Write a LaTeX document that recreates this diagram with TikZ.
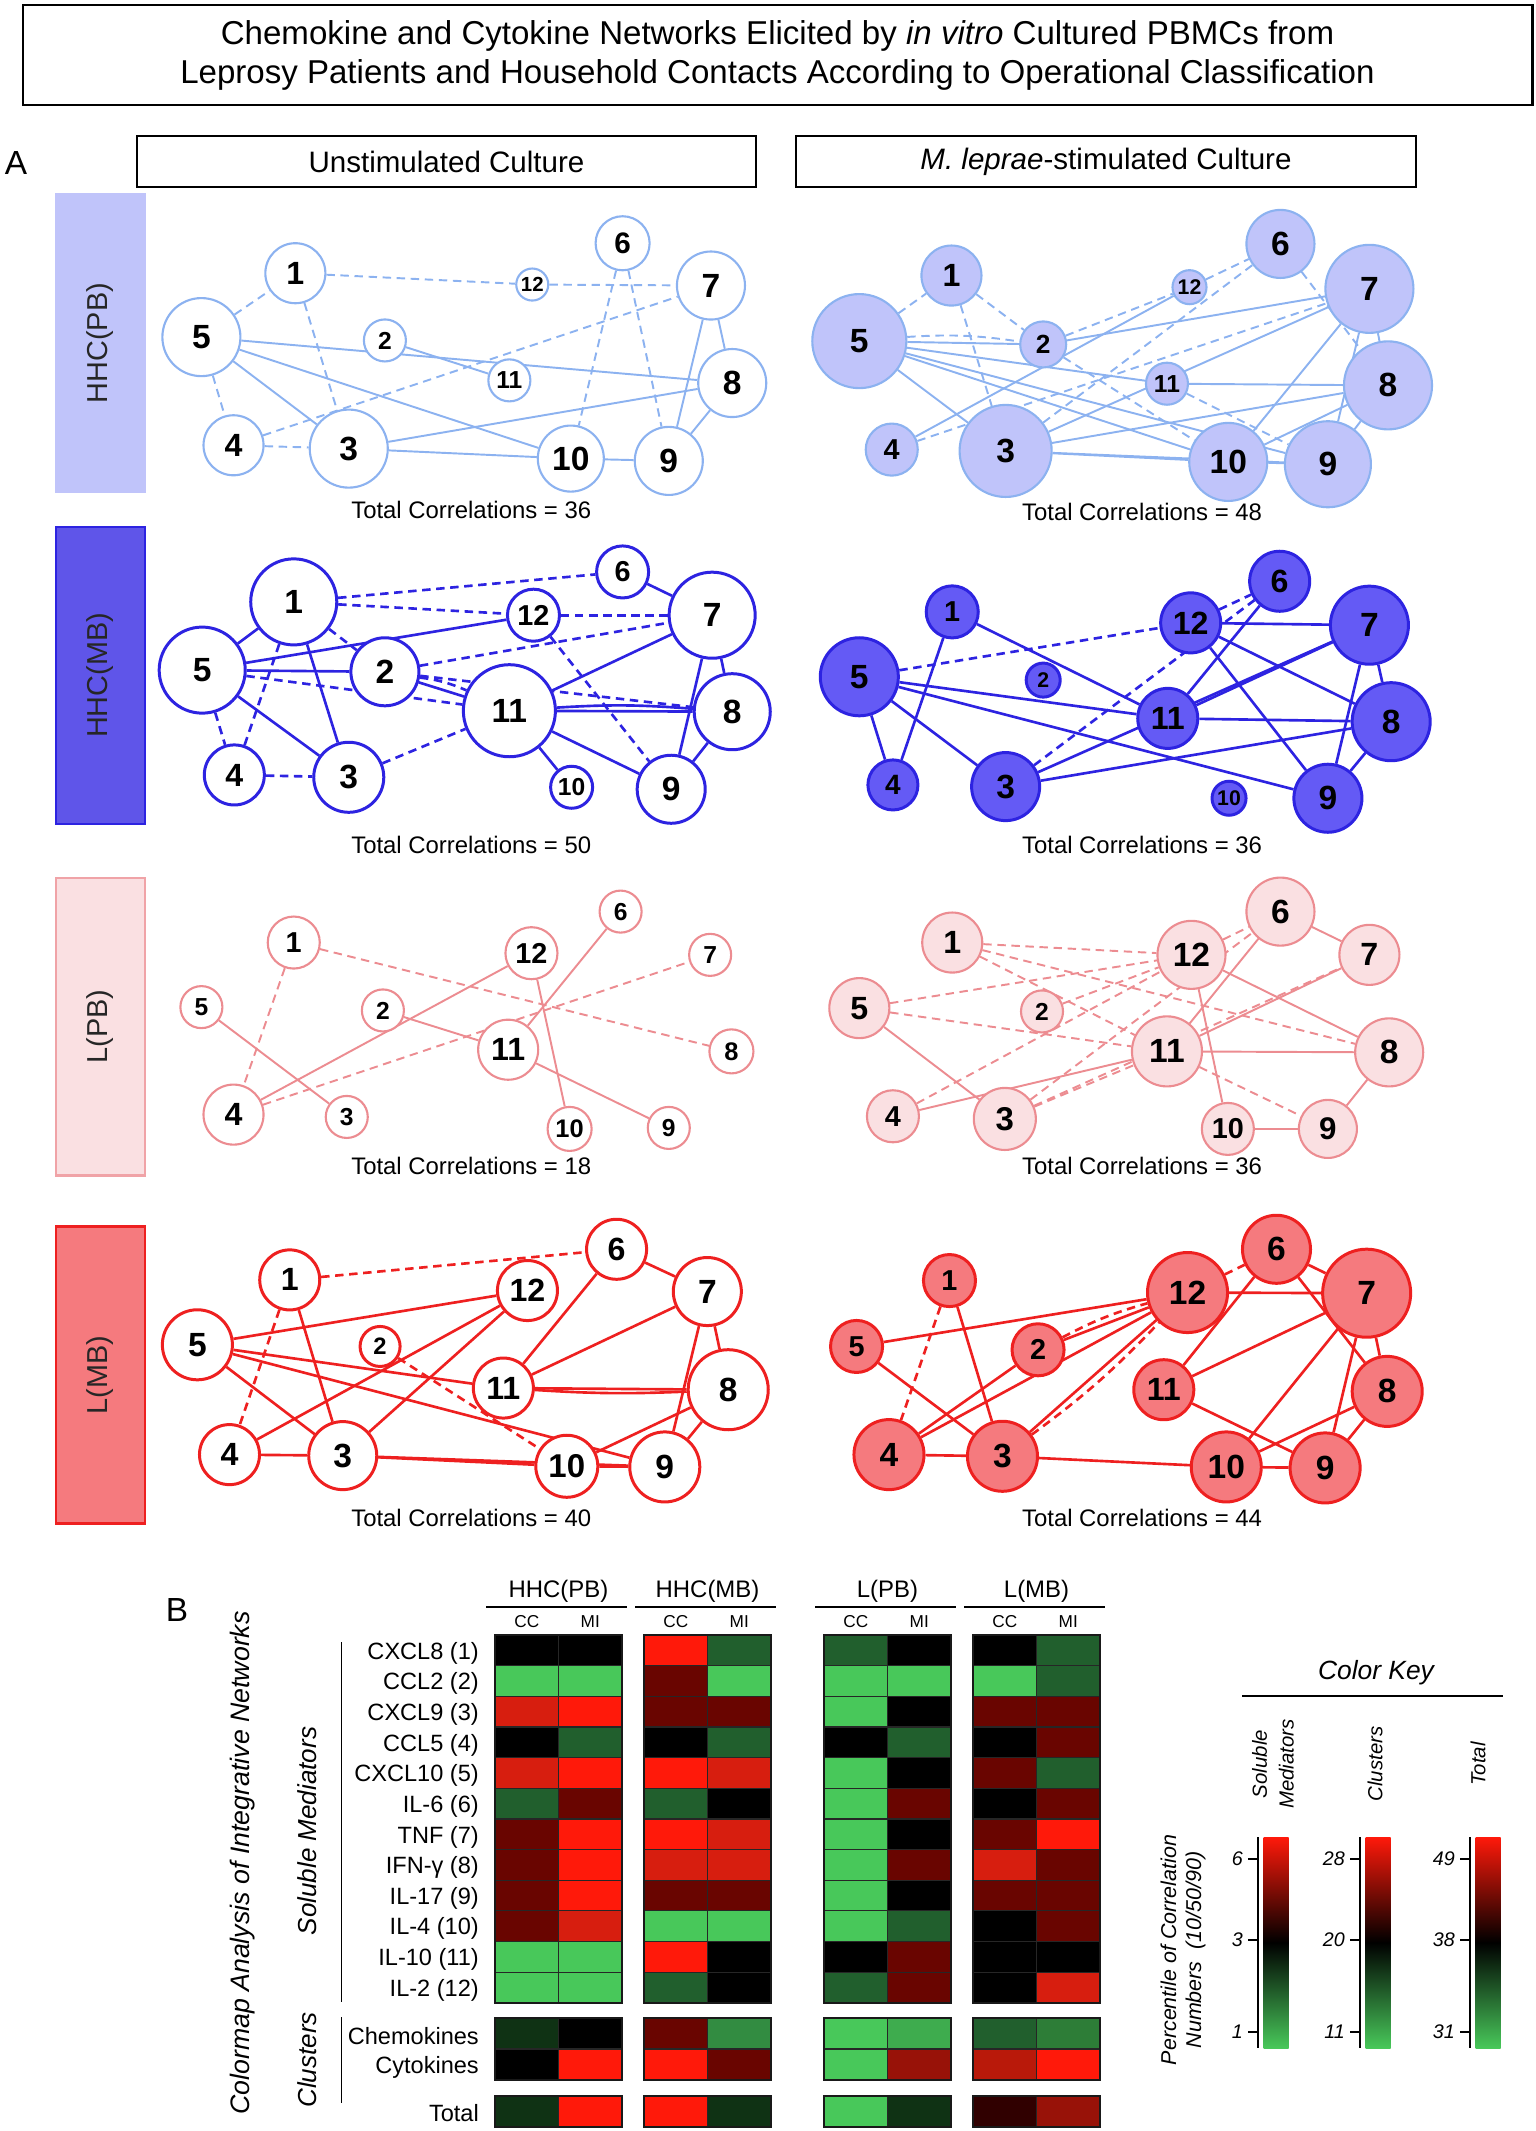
\documentclass[tikz,border=0pt]{standalone}
\usepackage{fontspec}
\setmainfont{Liberation Sans}
\pgfdeclarelayer{bg}
\pgfsetlayers{bg,main}

% network colours
\definecolor{cpb}{RGB}{140,178,240}
\definecolor{cpbf}{RGB}{192,196,250}
\definecolor{cmb}{RGB}{45,35,225}
\definecolor{cmbf}{RGB}{100,90,245}
\definecolor{clp}{RGB}{236,140,145}
\definecolor{clpf}{RGB}{250,224,226}
\definecolor{clm}{RGB}{238,32,32}
\definecolor{clmf}{RGB}{245,122,126}
% colormap
\definecolor{hG}{RGB}{72,200,90}
\definecolor{hg}{RGB}{33,95,45}
\definecolor{hk}{RGB}{0,0,0}
\definecolor{hm}{RGB}{105,5,0}
\definecolor{hr}{RGB}{215,30,15}
\definecolor{hR}{RGB}{255,25,10}
\definecolor{hd}{RGB}{15,50,20}
\definecolor{hn}{RGB}{50,140,65}
\definecolor{hl}{RGB}{62,172,78}
\definecolor{hj}{RGB}{45,125,55}
\definecolor{hq}{RGB}{152,18,8}
\definecolor{hs}{RGB}{185,25,10}
\definecolor{hb}{RGB}{48,0,0}

\newcommand\ndfont[1]{\pgfmathsetmacro\ndsz{min(5+0.6*#1,24)*0.3974}\fontsize{\ndsz pt}{\ndsz pt}\selectfont\bfseries}

% one block of the colormap: left x, list of CC/MI colours
\newcommand\hmblock[2]{%
  \foreach \ca/\cb [count=\i from 0] in {#2}{
    \pgfmathsetmacro\yy{\i<12 ? 1635+\i*30.65 : (\i<14 ? 2018+(\i-12)*31 : 2096)}
    \pgfmathsetmacro\hh{\i<12 ? 30.65 : 31}
    \fill[\ca] (#1,\yy) rectangle ++(63.5,\hh);
    \fill[\cb] (#1+63.5,\yy) rectangle ++(63.5,\hh);
    \draw[cellline] (#1,\yy) rectangle ++(63.5,\hh) (#1+63.5,\yy) rectangle ++(63.5,\hh);
  }
  \draw[blockline] (#1,1635) rectangle (#1+127,2002.8) (#1,2018) rectangle (#1+127,2080) (#1,2096) rectangle (#1+127,2127);
}

\tikzset{
  nd/.style={circle, inner sep=0pt, text=black, minimum size=0.02cm*#1, font=\ndfont{#1}},
  sol/.style={draw=#1, line width=0.55pt},
  dsh/.style={sol=#1, dash pattern=on 2.4pt off 1.6pt},
  heavy/.style={line width=0.75pt},
  tc/.style={text=black, font=\fontsize{6.8}{8}\selectfont},
  hdr/.style={draw, line width=0.6pt, minimum width=6.19cm, minimum height=0.51cm, font=\fontsize{8.4}{10}\selectfont},
  grp/.style={rotate=90, minimum width=2.97cm, minimum height=0.89cm, inner sep=0pt, line width=0.8pt, text=black!85, font=\fontsize{8.2}{10}\selectfont},
  pan/.style={font=\fontsize{9.5}{11}\selectfont},
  hmh/.style={font=\fontsize{6.8}{8}\selectfont},
  hms/.style={font=\fontsize{4.9}{6}\selectfont},
  hml/.style={anchor=east, inner sep=1pt, font=\fontsize{6.7}{8}\selectfont},
  rotlab/.style={rotate=90, font=\fontsize{7.4}{9}\selectfont\itshape},
  cellline/.style={draw=black!85, line width=0.35pt},
  blockline/.style={draw=black!90, line width=0.7pt},
  ckl/.style={rotate=90, align=center, font=\fontsize{5.8}{7.6}\selectfont\itshape},
  tkl/.style={anchor=east, inner sep=1pt, font=\fontsize{5.6}{7}\selectfont\itshape},
}

\begin{document}
\begin{tikzpicture}[x=0.01cm, y=-0.01cm]
\useasboundingbox (0,0) rectangle (1535,2131);

% titles
\node[draw, line width=0.6pt, minimum width=15.09cm, minimum height=1.0cm, align=center,
      font=\fontsize{9.4}{11.1}\selectfont] (title) at (777.5,55)
  {Chemokine and Cytokine Networks Elicited by \textit{in vitro} Cultured PBMCs from\\
   Leprosy Patients and Household Contacts According to Operational Classification};
\node[pan] (pA) at (16,163) {A};
\node[hdr] (unst) at (446.5,161.5) {Unstimulated Culture};
\node[hdr] (stim) at (1106,161.5) {\textit{M. leprae}-stimulated Culture};

% group bars
\node[grp, fill=cpbf, draw=cpbf] (gpb) at (100.5,343) {HHC(PB)};
\node[grp, fill=cmbf!95!black, draw=cmb] (gmb) at (100.5,675.5) {HHC(MB)};
\node[grp, fill=clpf, draw=clp!80] (glp) at (100.5,1026.5) {L(PB)};
\node[grp, fill=clmf, draw=clm] (glm) at (100.5,1375) {L(MB)};

% HHC(PB) unstimulated
\begin{scope}[shift={(150,204)}, x=0.0040179cm, y=-0.0033333cm]
  \foreach \n/\x/\y/\rr in {1/362/208/30, 2/585/410/21, 3/495/735/39, 4/208/725/30, 5/128/400/39, 6/1177/118/27,
      7/1397/245/34, 8/1450/538/34, 9/1292/772/34, 10/1048/765/33, 11/895/530/21, 12/952/242/16}
    \node[nd=\rr, draw=cpb, fill=white, line width=0.6pt] (pbu\n) at (\x,\y) {\n};
  \node[tc] (pbut) at (800,920) {Total Correlations = 36};
  \begin{pgfonlayer}{bg}
    \foreach \a/\b in {5/8, 2/11, 5/3, 5/10, 3/8, 3/10, 10/9, 7/9, 7/8, 8/9}
      \draw[sol=cpb] (pbu\a) -- (pbu\b);
    \foreach \a/\b in {1/12, 12/7, 5/1, 1/3, 5/4, 4/3, 4/7, 6/10, 6/9}
      \draw[dsh=cpb] (pbu\a) -- (pbu\b);
  \end{pgfonlayer}
\end{scope}

% HHC(PB) stimulated
\begin{scope}[shift={(800,204)}, x=0.0039541cm, y=-0.0033333cm]
  \foreach \n/\x/\y/\rr in {1/383/215/30, 2/615/422/23, 3/520/742/46, 4/232/738/26, 5/150/412/47, 6/1215/120/34,
      7/1440/255/44, 8/1487/545/44, 9/1335/782/43, 10/1083/775/39, 11/928/540/21, 12/985/250/17}
    \node[nd=\rr, draw=cpb, fill=cpbf, line width=0.6pt] (pbs\n) at (\x,\y) {\n};
  \node[tc] (pbst) at (865,925) {Total Correlations = 48};
  \begin{pgfonlayer}{bg}
    \foreach \a/\b in {5/2, 2/7, 5/11, 5/10, 5/9, 5/3, 11/8, 3/8, 3/10, 3/9, 10/9, 10/7, 9/7, 10/8, 9/8, 7/8, 4/12, 3/7}
      \draw[sol=cpb] (pbs\a) -- (pbs\b);
    \foreach \a/\b in {5/1, 1/2, 1/3, 2/12, 12/6, 6/8, 3/6, 4/7, 2/10, 11/9}
      \draw[dsh=cpb] (pbs\a) -- (pbs\b);
    \draw[dsh=cpb] (pbs5) to[bend left=6] (pbs2);
  \end{pgfonlayer}
\end{scope}

% HHC(MB) unstimulated
\begin{scope}[shift={(150,537)}, x=0.0040179cm, y=-0.0033333cm]
  \foreach \n/\x/\y/\rr in {1/358/195/43, 2/585/405/34, 3/495/722/35, 4/210/715/30, 5/130/400/43, 6/1177/105/26,
      7/1400/235/43, 8/1450/525/38, 9/1298/758/34, 10/1050/752/21, 11/895/522/46, 12/955/235/26}
    \node[nd=\rr, draw=cmb, fill=white, line width=0.85pt] (mbu\n) at (\x,\y) {\n};
  \node[tc] (mbut) at (800,925) {Total Correlations = 50};
  \begin{pgfonlayer}{bg}
    \foreach \a/\b in {5/1, 1/3, 5/3, 5/12, 5/2, 2/11, 6/7, 11/7, 11/8, 11/9, 11/10, 7/9, 7/8, 8/9}
      \draw[sol=cmb, heavy] (mbu\a) -- (mbu\b);
    \draw[sol=cmb, heavy] (mbu11) to[bend left=4] (mbu8);
    \foreach \a/\b in {1/12, 1/6, 12/7, 1/2, 2/7, 12/9, 2/8, 5/11, 5/4, 1/4, 4/3, 3/11}
      \draw[dsh=cmb, heavy] (mbu\a) -- (mbu\b);
    \draw[dsh=cmb, heavy] (mbu2) to[bend left=8] (mbu11);
  \end{pgfonlayer}
\end{scope}

% HHC(MB) stimulated
\begin{scope}[shift={(800,537)}, x=0.0039541cm, y=-0.0033333cm]
  \foreach \n/\x/\y/\rr in {1/385/225/26, 2/615/430/17, 3/520/750/34, 4/235/745/25, 5/150/420/39, 6/1213/133/30,
      7/1440/265/39, 8/1495/555/39, 9/1335/785/34, 10/1085/785/17, 11/930/545/30, 12/988/258/30}
    \node[nd=\rr, draw=cmb, fill=cmbf, line width=0.85pt] (mbs\n) at (\x,\y) {\n};
  \node[tc] (mbst) at (865,925) {Total Correlations = 36};
  \begin{pgfonlayer}{bg}
    \foreach \a/\b in {1/11, 1/4, 5/4, 5/3, 5/11, 5/9, 12/7, 12/8, 12/9, 6/11, 11/7, 3/7, 11/8, 3/8, 7/9, 7/8, 8/9}
      \draw[sol=cmb, heavy] (mbs\a) -- (mbs\b);
    \foreach \a/\b in {5/12, 12/6, 3/6}
      \draw[dsh=cmb, heavy] (mbs\a) -- (mbs\b);
  \end{pgfonlayer}
\end{scope}

% L(PB) unstimulated
\begin{scope}[shift={(150,870)}, x=0.0040179cm, y=-0.0033333cm]
  \foreach \n/\x/\y/\rr in {1/358/218/26, 2/580/422/21, 3/490/742/21, 4/208/735/30, 5/128/412/21, 6/1172/125/21,
      7/1395/255/21, 8/1448/545/22, 9/1292/775/21, 10/1045/778/22, 11/892/540/30, 12/950/250/26}
    \node[nd=\rr, draw=clp, fill=white, line width=0.6pt] (lpu\n) at (\x,\y) {\n};
  \node[tc] (lput) at (800,890) {Total Correlations = 18};
  \begin{pgfonlayer}{bg}
    \foreach \a/\b in {5/3, 4/12, 2/11, 6/11, 12/10, 11/9}
      \draw[sol=clp] (lpu\a) -- (lpu\b);
    \foreach \a/\b in {1/4, 1/8, 4/7}
      \draw[dsh=clp] (lpu\a) -- (lpu\b);
  \end{pgfonlayer}
\end{scope}

% L(PB) stimulated
\begin{scope}[shift={(800,870)}, x=0.0039541cm, y=-0.0033333cm]
  \foreach \n/\x/\y/\rr in {1/385/218/30, 2/612/425/21, 3/518/748/31, 4/235/740/26, 5/150/415/30, 6/1215/125/34,
      7/1440/255/30, 8/1490/548/34, 9/1335/778/29, 10/1082/778/26, 11/928/545/35, 12/990/255/34}
    \node[nd=\rr, draw=clp, fill=clpf, line width=0.6pt] (lps\n) at (\x,\y) {\n};
  \node[tc] (lpst) at (865,890) {Total Correlations = 36};
  \begin{pgfonlayer}{bg}
    \foreach \a/\b in {5/3, 4/11, 12/8, 12/10, 6/11, 6/7, 11/7, 11/8, 8/9, 10/9}
      \draw[sol=clp] (lps\a) -- (lps\b);
    \foreach \a/\b in {1/12, 1/11, 1/8, 5/12, 5/11, 2/12, 12/6, 4/12, 3/6, 3/11, 3/7, 11/9}
      \draw[dsh=clp] (lps\a) -- (lps\b);
  \end{pgfonlayer}
\end{scope}

% L(MB) unstimulated
\begin{scope}[shift={(150,1210)}, x=0.0040179cm, y=-0.0033333cm]
  \foreach \n/\x/\y/\rr in {1/348/210/30, 2/573/410/20, 3/480/738/34, 4/198/735/30, 5/118/405/35, 6/1162/118/30,
      7/1388/245/34, 8/1440/540/40, 9/1282/772/35, 10/1038/770/31, 11/880/535/30, 12/940/242/30}
    \node[nd=\rr, draw=clm, fill=white, line width=0.85pt] (lmu\n) at (\x,\y) {\n};
  \node[tc] (lmut) at (800,925) {Total Correlations = 40};
  \begin{pgfonlayer}{bg}
    \foreach \a/\b in {1/3, 5/12, 5/11, 5/3, 5/9, 4/12, 4/3, 3/12, 3/10, 3/9, 6/11, 6/7, 11/7, 11/8, 10/8, 10/9, 7/9, 7/8, 8/9}
      \draw[sol=clm, heavy] (lmu\a) -- (lmu\b);
    \draw[sol=clm, heavy] (lmu11) to[bend right=3] (lmu8);
    \foreach \a/\b in {1/6, 1/4, 2/10}
      \draw[dsh=clm, heavy] (lmu\a) -- (lmu\b);
  \end{pgfonlayer}
\end{scope}

% L(MB) stimulated
\begin{scope}[shift={(800,1210)}, x=0.0039541cm, y=-0.0033333cm]
  \foreach \n/\x/\y/\rr in {1/378/212/26, 2/602/420/26, 3/512/740/35, 4/225/735/35, 5/143/410/26, 6/1205/118/34,
      7/1433/250/44, 8/1485/545/35, 9/1328/775/35, 10/1078/772/35, 11/920/540/30, 12/980/248/40}
    \node[nd=\rr, draw=clm, fill=clmf, line width=0.85pt] (lms\n) at (\x,\y) {\n};
  \node[tc] (lmst) at (865,925) {Total Correlations = 44};
  \begin{pgfonlayer}{bg}
    \foreach \a/\b in {5/12, 5/3, 1/3, 4/3, 4/2, 4/12, 2/12, 3/12, 3/10, 12/7, 6/11, 6/7, 6/8, 11/7, 11/9, 7/10, 7/9, 7/8, 10/8, 8/9, 10/9}
      \draw[sol=clm, heavy] (lms\a) -- (lms\b);
    \foreach \a/\b in {1/4, 12/6}
      \draw[dsh=clm, heavy] (lms\a) -- (lms\b);
    \draw[dsh=clm, heavy] (lms2) to[bend left=6] (lms12);
    \draw[dsh=clm, heavy] (lms3) to[bend right=5] (lms12);
  \end{pgfonlayer}
\end{scope}

% panel B: colormap
\node[pan] (pB) at (177,1610) {B};
\node[rotlab, font=\fontsize{7.6}{9}\selectfont\itshape] (cmap) at (243,1863) {Colormap Analysis of Integrative Networks};
\node[rotlab] (solm) at (307.5,1831) {Soluble Mediators};
\node[rotlab] (clus) at (307.5,2060) {Clusters};
\draw[line width=0.5pt] (341.5,1642) -- (341.5,2002);
\draw[line width=0.5pt] (341.5,2017) -- (341.5,2103);

\foreach \t [count=\i from 0] in {CXCL8 (1), CCL2 (2), CXCL9 (3), CCL5 (4), CXCL10 (5), IL-6 (6),
    TNF (7), IFN-γ (8), IL-17 (9), IL-4 (10), IL-10 (11), IL-2 (12)}
  \node[hml] (rl\i) at (483,{1653+\i*30.65}) {\t};
\node[hml] (rlch) at (483,2036) {Chemokines};
\node[hml] (rlcy) at (483,2067) {Cytokines};
\node[hml] (rlto) at (483,2113.5) {Total};

\foreach \xo/\g [count=\k] in {495/HHC(PB), 644/HHC(MB), 824/L(PB), 973/L(MB)}{
  \node[hmh] (gh\k) at (\xo+63.5,1591) {\g};
  \draw[line width=0.6pt] (\xo-9,1607) -- (\xo+132,1607);
  \node[hms] (cc\k) at (\xo+31.75,1622) {CC};
  \node[hms] (mi\k) at (\xo+95.25,1622) {MI};
}

\hmblock{495}{hk/hk, hG/hG, hr/hR, hk/hg, hr/hR, hg/hm, hm/hR, hm/hR, hm/hR, hm/hr, hG/hG, hG/hG, hd/hk, hk/hR, hd/hR}
\hmblock{644}{hR/hg, hm/hG, hm/hm, hk/hg, hR/hr, hg/hk, hR/hr, hr/hr, hm/hm, hG/hG, hR/hk, hg/hk, hm/hn, hR/hm, hR/hd}
\hmblock{824}{hg/hk, hG/hG, hG/hk, hk/hg, hG/hk, hG/hm, hG/hk, hG/hm, hG/hk, hG/hg, hk/hm, hg/hm, hG/hl, hG/hq, hG/hd}
\hmblock{973}{hk/hg, hG/hg, hm/hm, hk/hm, hm/hg, hk/hm, hm/hR, hr/hm, hm/hm, hk/hm, hk/hk, hk/hr, hg/hj, hs/hR, hb/hq}

% color key
\node[font=\fontsize{7.5}{9}\selectfont\itshape] (ckey) at (1376,1673) {Color Key};
\draw[line width=0.6pt] (1242,1696) -- (1503,1696);
\node[ckl] (ks) at (1273,1764) {Soluble\\Mediators};
\node[ckl] (kc) at (1375,1764) {Clusters};
\node[ckl] (kt) at (1478,1764) {Total};
\node[ckl, font=\fontsize{6.1}{7.1}\selectfont\itshape] (kpc) at (1183,1950) {Percentile of Correlation\\Numbers\ \ (10/50/90)};
\foreach \xb/\la/\lb/\lc [count=\k] in {1258/6/3/1, 1360/28/20/11, 1470/49/38/31}{
  \shade[top color=hR, bottom color=hG, middle color=black] (\xb+5.5,1837) rectangle (\xb+30.5,2048);
  \draw[line width=0.5pt] (\xb,1837) -- (\xb,2048);
  \draw[line width=0.5pt] (\xb-10,1859) -- (\xb,1859) (\xb-10,1940) -- (\xb,1940) (\xb-10,2032) -- (\xb,2032);
  \node[tkl] (ta\k) at (\xb-11,1859) {\la};
  \node[tkl] (tb\k) at (\xb-11,1940) {\lb};
  \node[tkl] (tc\k) at (\xb-11,2032) {\lc};
}
\end{tikzpicture}
\end{document}
